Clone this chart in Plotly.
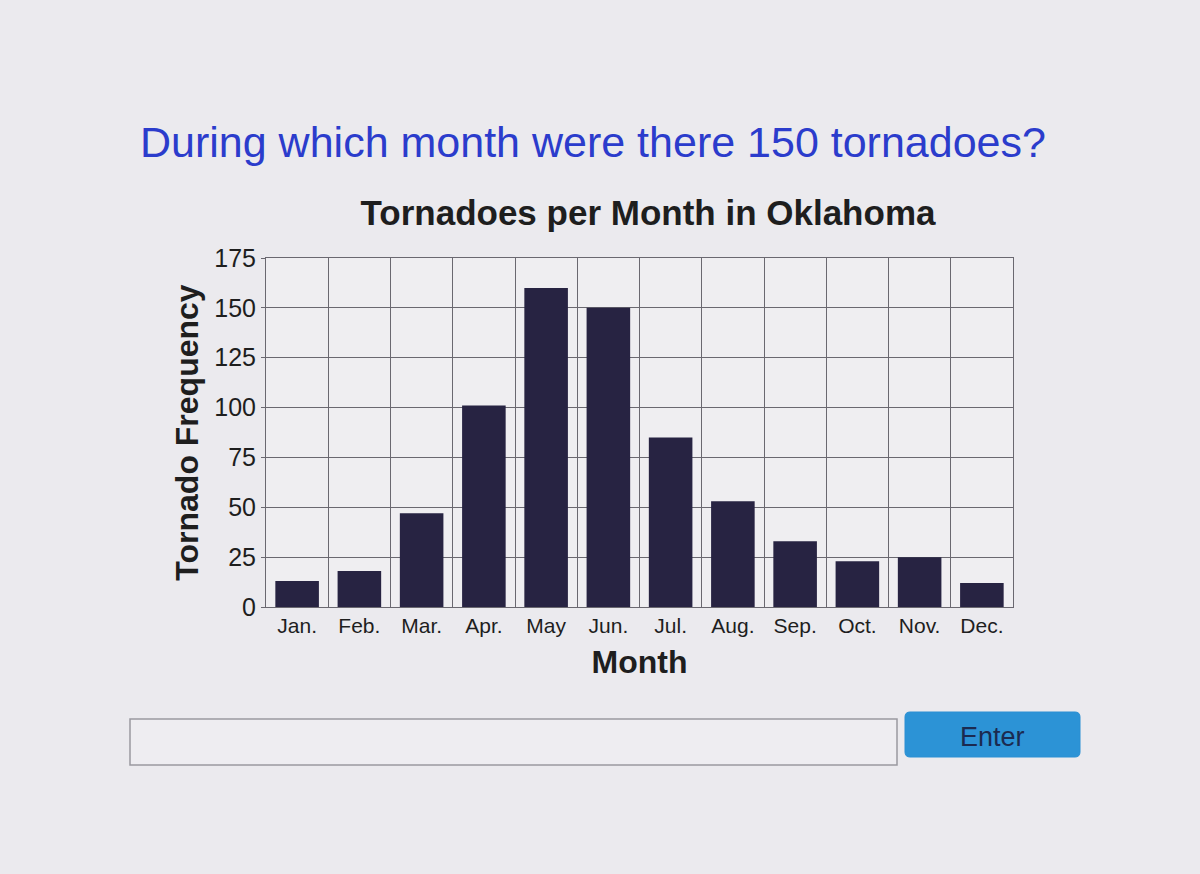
import plotly.graph_objects as go

months = ["Jan.", "Feb.", "Mar.", "Apr.", "May", "Jun.", "Jul.", "Aug.", "Sep.", "Oct.", "Nov.", "Dec."]
tornadoes = [13, 18, 47, 101, 160, 150, 85, 53, 33, 23, 25, 12]
y_ticks = [0, 25, 50, 75, 100, 125, 150, 175]

question = "During which month were there 150 tornadoes?"
chart_title = "Tornadoes per Month in Oklahoma"

L, R, T, B = 266, 187, 258, 267
W, H = 1200, 874


def py(pix):
    return (H - B - pix) / (H - T - B)


def px(pix):
    return (pix - L) / (W - L - R)


fig = go.Figure()
fig.add_trace(go.Bar(x=months, y=tornadoes, marker=dict(color="#272342", line=dict(width=0)),
                     hoverinfo="x+y"))

fig.update_layout(
    width=W, height=H,
    margin=dict(l=L, r=R, t=T, b=B),
    paper_bgcolor="#ebeaee",
    plot_bgcolor="#efeef1",
    bargap=0.3,
    showlegend=False,
    font=dict(family="Liberation Sans, Arial, sans-serif", color="#1e1e1e"),
    title=dict(text="<b>" + chart_title + "</b>", x=648 / W, xanchor="center",
               y=1 - 213 / H, yanchor="middle", font=dict(size=35, color="#1e1e1e")),
    xaxis=dict(
        tickson="boundaries", showgrid=True, gridcolor="#6a6870", gridwidth=1,
        showline=True, linecolor="#6a6870", mirror=True,
        ticks="outside", ticklen=11, tickcolor="rgba(0,0,0,0)",
        tickfont=dict(size=21), title=dict(text="<b>Month</b>", font=dict(size=32), standoff=14),
    ),
    yaxis=dict(
        range=[0, 175], tickvals=y_ticks, showgrid=True, gridcolor="#6a6870", gridwidth=1,
        showline=True, linecolor="#6a6870", mirror=True, ticks="outside", ticklen=4,
        tickcolor="#6a6870", tickfont=dict(size=25), zeroline=False,
        title=dict(text="<b>Tornado Frequency</b>", font=dict(size=32), standoff=6),
    ),
)

fig.add_annotation(text=question, xref="paper", yref="paper",
                   x=px(138), y=py(142), xanchor="left", yanchor="middle", showarrow=False,
                   font=dict(size=43, color="#2b3ccc"))

# input box
fig.add_shape(type="rect", xref="paper", yref="paper", x0=px(130), x1=px(897), y0=py(765), y1=py(719),
              line=dict(color="#9a99a0", width=1.5), fillcolor="#eeedf1")
# Enter button (rounded corners)
x0b, x1b, y0b, y1b, r = px(905), px(1080), py(757), py(712), 5
rx = r / (W - L - R)
ry = r / (H - T - B)
path = (f"M {x0b+rx},{y1b} L {x1b-rx},{y1b} Q {x1b},{y1b} {x1b},{y1b-ry} "
        f"L {x1b},{y0b+ry} Q {x1b},{y0b} {x1b-rx},{y0b} L {x0b+rx},{y0b} "
        f"Q {x0b},{y0b} {x0b},{y0b+ry} L {x0b},{y1b-ry} Q {x0b},{y1b} {x0b+rx},{y1b} Z")
fig.add_shape(type="path", xref="paper", yref="paper", path=path,
              line=dict(color="#2a8fd3", width=1), fillcolor="#2c93d6")
fig.add_annotation(text="Enter", xref="paper", yref="paper", x=px(992), y=py(737),
                   xanchor="center", yanchor="middle", showarrow=False,
                   font=dict(size=27, color="#1b2a50"))

fig.write_html("out.html")
